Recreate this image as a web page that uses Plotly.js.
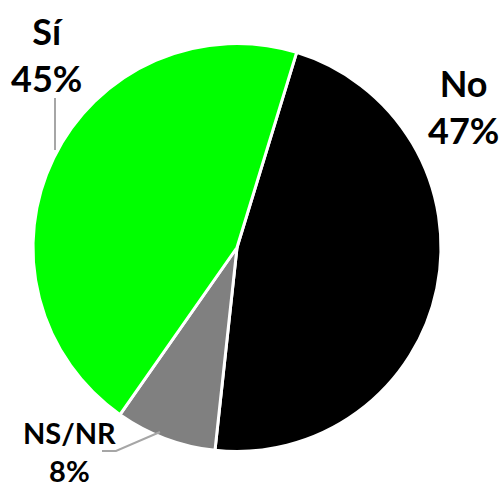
<!DOCTYPE html>
<html><head><meta charset="utf-8">
<script src="https://cdn.plot.ly/plotly-3.0.1.min.js"></script>
<style>html,body{margin:0;padding:0;background:#fff}#c{width:504px;height:487px}</style>
</head><body><div id="c"></div>
<script>
const labels = ['No', 'NS/NR', 'Sí'];
const values = [47, 8, 45];
const colors = ['#000000', '#808080', '#00ff00'];

const W = 504, H = 487;
const px = x => x / W, py = y => 1 - y / H;

const trace = {
  type: 'pie', labels: labels, values: values, sort: false,
  direction: 'clockwise', rotation: 17,
  marker: {colors: colors, line: {color: '#ffffff', width: 3}},
  textinfo: 'none', hoverinfo: 'label+percent', showlegend: false,
  domain: {x: [px(33), px(441)], y: [py(452), py(43)]}
};

const font = {family: 'Lato, "DejaVu Sans", sans-serif', color: '#000000', weight: 900};
const annPos = [
  {x: 463, y: 106, size: 36},
  {x: 69, y: 451, size: 29},
  {x: 46, y: 55, size: 36}
];
const annotations = labels.map((l, i) => ({
  xref: 'paper', yref: 'paper', x: px(annPos[i].x), y: py(annPos[i].y),
  xanchor: 'center', yanchor: 'middle', showarrow: false,
  text: '<b>' + l + '<br>' + values[i] + '%</b>',
  font: Object.assign({size: annPos[i].size}, font)
}));

const lineStyle = {color: '#a6a6a6', width: 2};
const shapes = [
  {type: 'line', xref: 'paper', yref: 'paper', x0: px(55), y0: py(98), x1: px(55), y1: py(150), line: lineStyle},
  {type: 'path', xref: 'paper', yref: 'paper',
   path: 'M ' + px(102) + ' ' + py(451) + ' L ' + px(116) + ' ' + py(451) + ' L ' + px(160) + ' ' + py(432),
   line: lineStyle}
];

Plotly.newPlot('c', [trace], {
  width: W, height: H, margin: {l: 0, r: 0, t: 0, b: 0},
  paper_bgcolor: '#ffffff', annotations: annotations, shapes: shapes
}, {displayModeBar: false, staticPlot: true});
</script></body></html>
